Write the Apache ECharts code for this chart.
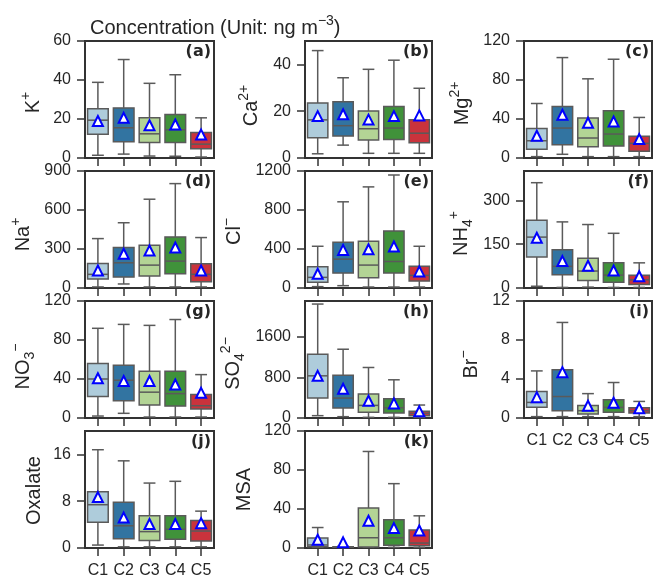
<!DOCTYPE html>
<html>
<head>
<meta charset="utf-8">
<script src="https://cdn.jsdelivr.net/npm/echarts@6/dist/echarts.min.js"></script>
<style>
  html, body { margin: 0; padding: 0; background: #fff; }
  #chart { width: 655px; height: 579px; }
</style>
</head>
<body>
<div id="chart"></div>
<script>
// categories (clusters)
var categories = ['C1', 'C2', 'C3', 'C4', 'C5'];

// box stats per cluster: [min, Q1, median, Q3, max], mean values, y tick labels
var kBox = [[1.4, 12.2, 19.4, 25.3, 38.8], [2, 8.3, 15.5, 25.7, 50.5], [1, 8, 12.4, 20.7, 38.3], [0.9, 8, 14.5, 22.3, 42.7], [0.5, 4.8, 7.1, 13.1, 20.6]];
var kMean = [19, 20.6, 16.8, 17.2, 12];
var kTicks = [0, 20, 40, 60];

var caBox = [[1.8, 8.7, 16.3, 23.5, 45.9], [5.5, 9.4, 13.8, 24, 34.3], [2, 7.7, 12.5, 20.1, 37.9], [2, 7.9, 12.8, 22, 41.8], [2, 6.5, 10.6, 16.3, 29.8]];
var caMean = [17.9, 18.7, 16.4, 17.9, 18.2];
var caTicks = [0, 20, 40];

var mgBox = [[1.4, 8.9, 17.7, 30.3, 55.9], [3.8, 13.6, 30.7, 52.9, 103], [1.4, 11.6, 20.5, 40.9, 81.2], [1.4, 12.3, 24.6, 48.4, 101.3], [1.4, 6.8, 15, 22.2, 41.6]];
var mgMean = [22.8, 44.3, 36.2, 37.5, 19.4];
var mgTicks = [0, 40, 80, 120];

var naBox = [[8, 69, 105, 189, 380], [31, 84, 194, 311, 502], [8, 92, 176, 329, 683], [8, 110, 207, 393, 803], [8, 48, 105, 186, 388]];
var naMean = [135, 263, 288, 311, 135];
var naTicks = [0, 300, 600, 900];

var clBox = [[14, 58, 109, 218, 428], [24, 153, 296, 469, 884], [10, 105, 235, 479, 1037], [10, 153, 272, 585, 1159], [10, 71, 129, 224, 428]];
var clMean = [146, 391, 398, 425, 170];
var clTicks = [0, 400, 800, 1200];

var nh4Box = [[6, 106, 174, 232, 360], [2, 45, 74, 131, 226], [3, 26, 58, 102, 217], [2, 20, 44, 86, 187], [2, 12, 28, 44, 86]];
var nh4Mean = [172, 92, 76, 60, 40];
var nh4Ticks = [0, 150, 300];

var no3Box = [[2, 22, 40, 56, 92], [4.8, 17.7, 38.8, 54, 96], [1, 13.3, 26.5, 48, 95], [1, 12.2, 25, 48, 101], [1, 9.2, 12.6, 24, 44.5]];
var no3Mean = [40.8, 38, 38, 34.3, 25.8];
var no3Ticks = [0, 40, 80, 120];

var so4Box = [[46, 392, 829, 1254, 2240], [26, 196, 392, 842, 1352], [13, 111, 248, 470, 993], [13, 98, 202, 379, 751], [13, 46, 91, 131, 255]];
var so4Mean = [829, 575, 340, 287, 131];
var so4Ticks = [0, 800, 1600];

var brBox = [[0.14, 1.09, 1.6, 2.72, 4.83], [0.14, 0.75, 2.2, 4.96, 9.8], [0.14, 0.41, 0.75, 1.29, 2.5], [0.14, 0.58, 1.09, 1.87, 3.64], [0.14, 0.51, 0.75, 1.05, 1.7]];
var brMean = [2.14, 4.7, 1.26, 1.56, 0.99];
var brTicks = [0, 4, 8, 12];

var oxBox = [[0.5, 4.4, 7.4, 9.6, 16.8], [0.2, 1.6, 3.8, 7.8, 14.9], [0.2, 1.3, 2.8, 5.5, 11.1], [0.2, 1.5, 3.2, 5.5, 11.4], [0.2, 1.2, 2.9, 4.7, 6.3]];
var oxMean = [8.7, 5.2, 4.1, 4.1, 4.25];
var oxTicks = [0, 8, 16];

var msaBox = [[0.7, 1.4, 3.1, 10.2, 21], [0.5, 0.8, 1, 1.3, 1.8], [0.7, 1, 10.5, 41, 99], [0.7, 2.7, 10.5, 29, 66], [0.7, 2.4, 5.1, 18.4, 33]];
var msaMean = [8.5, 5.8, 28, 20.4, 18];
var msaTicks = [0, 40, 80, 120];

var colors = ['#aeccdb', '#3274a1', '#b3d495', '#40923a', '#ca333c'];
var lineColor = '#5a5a5a';
var textColor = '#262626';
var font = 'Liberation Sans, Arial, sans-serif';

// panel layout
var colLeft = [85, 305, 524];
var colWidth = [129, 127, 128];
var rowTop = [41, 171, 301, 431];
var panelHeight = 117;

// nx: distance of y-label centre left of the axis, dy: shift of label centre
var panels = [
  { name: '{n|K}{p|+}', box: kBox, mean: kMean, ticks: kTicks, max: 60, tag: '(a)', col: 0, row: 0, nx: 52, dy: 3 },
  { name: '{n|Ca}{p|2+}', box: caBox, mean: caMean, ticks: caTicks, max: 50, tag: '(b)', col: 1, row: 0, nx: 54, dy: 6 },
  { name: '{n|Mg}{p|2+}', box: mgBox, mean: mgMean, ticks: mgTicks, max: 120, tag: '(c)', col: 2, row: 0, nx: 62, dy: 4 },
  { name: '{n|Na}{p|+}', box: naBox, mean: naMean, ticks: naTicks, max: 900, tag: '(d)', col: 0, row: 1, nx: 62, dy: 5 },
  { name: '{n|Cl}{p|\u2212}', box: clBox, mean: clMean, ticks: clTicks, max: 1200, tag: '(e)', col: 1, row: 1, nx: 71, dy: 2 },
  { name: '{n|NH}{b|4}{p|+}', box: nh4Box, mean: nh4Mean, ticks: nh4Ticks, max: 400, tag: '(f)', col: 2, row: 1, nx: 63, dy: 4 },
  { name: '{n|NO}{b|3}{p|\u2212}', box: no3Box, mean: no3Mean, ticks: no3Ticks, max: 120, tag: '(g)', col: 0, row: 2, nx: 62, dy: 7 },
  { name: '{n|SO}{b|4}{p|2\u2212}', box: so4Box, mean: so4Mean, ticks: so4Ticks, max: 2300, tag: '(h)', col: 1, row: 2, nx: 72, dy: 4 },
  { name: '{n|Br}{p|\u2212}', box: brBox, mean: brMean, ticks: brTicks, max: 12, tag: '(i)', col: 2, row: 2, nx: 53, dy: 5, xLabels: true },
  { name: '{n|Oxalate}', box: oxBox, mean: oxMean, ticks: oxTicks, max: 20, tag: '(j)', col: 0, row: 3, nx: 51, dy: 1, xLabels: true },
  { name: '{n|MSA}', box: msaBox, mean: msaMean, ticks: msaTicks, max: 120, tag: '(k)', col: 1, row: 3, nx: 61, dy: 0, xLabels: true }
];

var nameRich = {
  n: { fontSize: 20, lineHeight: 28, fontFamily: font, fill: textColor, color: textColor },
  p: { fontSize: 14, lineHeight: 28, verticalAlign: 'top', fontFamily: font, fill: textColor, color: textColor },
  b: { fontSize: 14, lineHeight: 28, verticalAlign: 'bottom', fontFamily: font, fill: textColor, color: textColor }
};

// draws one box with whiskers, half-width caps and median line
function renderBox(params, api) {
  var i = api.value(0);
  var lo = api.coord([i, api.value(1)]);
  var q1 = api.coord([i, api.value(2)]);
  var md = api.coord([i, api.value(3)]);
  var q3 = api.coord([i, api.value(4)]);
  var hi = api.coord([i, api.value(5)]);
  var band = api.size([1, 0])[0];
  var bw = band * 0.8;
  var cw = band * 0.46;
  var cx = lo[0];
  var ls = { stroke: lineColor, lineWidth: 1.5 };
  return {
    type: 'group',
    children: [
      { type: 'line', shape: { x1: cx, y1: hi[1], x2: cx, y2: q3[1] }, style: ls },
      { type: 'line', shape: { x1: cx, y1: q1[1], x2: cx, y2: lo[1] }, style: ls },
      { type: 'line', shape: { x1: cx - cw / 2, y1: hi[1], x2: cx + cw / 2, y2: hi[1] }, style: ls },
      { type: 'line', shape: { x1: cx - cw / 2, y1: lo[1], x2: cx + cw / 2, y2: lo[1] }, style: ls },
      { type: 'rect', shape: { x: cx - bw / 2, y: q3[1], width: bw, height: q1[1] - q3[1] },
        style: { fill: colors[i], stroke: lineColor, lineWidth: 1.5 } },
      { type: 'line', shape: { x1: cx - bw / 2, y1: md[1], x2: cx + bw / 2, y2: md[1] }, style: ls }
    ]
  };
}

var grids = [], xAxes = [], yAxes = [], series = [], graphics = [];

panels.forEach(function (p, k) {
  var left = colLeft[p.col], top = rowTop[p.row], w = colWidth[p.col];
  grids.push({
    left: left, top: top, width: w, height: panelHeight,
    show: true, borderColor: '#333', borderWidth: 2, backgroundColor: 'transparent',
    containLabel: false, outerBoundsMode: 'none'
  });
  xAxes.push({
    type: 'category', gridIndex: k, data: categories,
    axisLine: { show: false },
    axisTick: { show: true, alignWithLabel: true, length: 8, inside: false, lineStyle: { color: '#333', width: 1.5 } },
    axisLabel: { show: !!p.xLabels, color: textColor, fontSize: 16, fontFamily: font, margin: 15, interval: 0 },
    splitLine: { show: false }
  });
  yAxes.push({
    type: 'value', gridIndex: k, min: 0, max: p.max,
    axisLine: { show: false },
    axisTick: { show: true, length: 8, customValues: p.ticks, lineStyle: { color: '#333', width: 1.5 } },
    axisLabel: { color: textColor, fontSize: 16, fontFamily: font, margin: 14, customValues: p.ticks,
      formatter: function (v) { return String(v); } },
    splitLine: { show: false }
  });
  series.push({
    type: 'custom', xAxisIndex: k, yAxisIndex: k,
    renderItem: renderBox,
    encode: { x: 0, y: [1, 2, 3, 4, 5] },
    data: p.box.map(function (b, i) { return [i].concat(b); }),
    z: 2
  });
  series.push({
    type: 'scatter', xAxisIndex: k, yAxisIndex: k,
    data: p.mean,
    symbol: 'triangle', symbolSize: 10,
    itemStyle: { color: '#fff', borderColor: '#0000ff', borderWidth: 2, opacity: 1 },
    z: 5
  });
  // panel tag (a), (b), ...
  graphics.push({
    type: 'text', x: left + w - 3, y: top + 3,
    style: { text: p.tag, fill: textColor, font: 'bold 16px "DejaVu Sans"', align: 'right', verticalAlign: 'top' }
  });
  // y-axis label, rotated
  graphics.push({
    type: 'text', x: left - p.nx, y: top + panelHeight / 2 + p.dy, rotation: Math.PI / 2,
    style: { text: p.name, rich: nameRich, fill: textColor, fontSize: 20, fontFamily: font,
      align: 'center', verticalAlign: 'middle' }
  });
});

var chart = echarts.init(document.getElementById('chart'));
chart.setOption({
  backgroundColor: '#fff',
  animation: false,
  title: {
    text: '{a|Concentration (Unit: ng m}{s|\u22123}{a|)}',
    left: 85, top: 9,
    textStyle: {
      fontWeight: 'normal', fontSize: 20, fontFamily: font,
      rich: {
        a: { fontSize: 20, lineHeight: 28, fontWeight: 'normal', fontFamily: font, color: textColor },
        s: { fontSize: 14, lineHeight: 28, verticalAlign: 'top', fontWeight: 'normal', fontFamily: font, color: textColor }
      }
    }
  },
  grid: grids,
  xAxis: xAxes,
  yAxis: yAxes,
  series: series,
  graphic: graphics
});
</script>
</body>
</html>
